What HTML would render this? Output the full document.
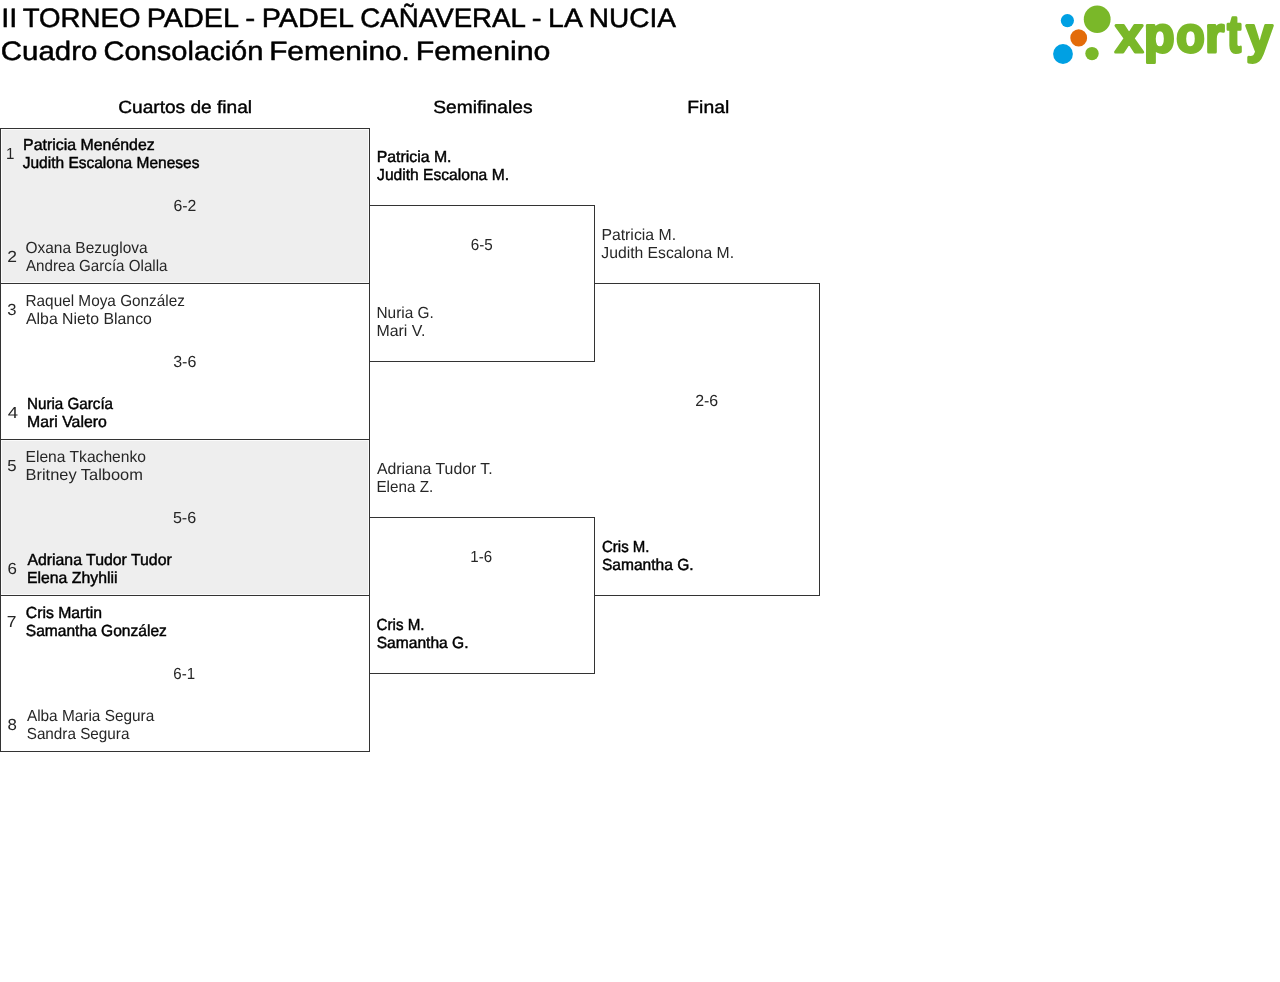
<!DOCTYPE html>
<html lang="es">
<head>
<meta charset="utf-8">
<meta name="viewport" content="width=1280">
<title>II TORNEO PADEL - PADEL CAÑAVERAL - LA NUCIA · Cuadro Consolación Femenino</title>
<style>
html,body{margin:0;padding:0;background:#fff}
body{position:relative;width:1280px;height:982px;overflow:hidden;
  font-family:"Liberation Sans",sans-serif;color:#000;font-size:16px;line-height:18px;
  text-rendering:geometricPrecision}
h1,h2,p{margin:0;padding:0;font-weight:normal;font-size:inherit}
.head,.bracket{position:absolute;left:0;top:0;width:1280px;height:982px;will-change:transform}
span.ttl,span.rh,span.sd,span.nm,span.sc{position:absolute;white-space:nowrap;display:block;transform-origin:0 0}
.ttl{font-size:26.7px;line-height:33px;-webkit-text-stroke:.5px #000}
.rh{font-size:17.7px;line-height:22px;-webkit-text-stroke:.4px #000}
.sd,.nm,.sc{font-size:16px;line-height:18px}
.sd,.sc,.nm{color:#262626}
.nm.w{color:#000;-webkit-text-stroke:.45px #000}
.box{position:absolute;box-sizing:border-box;border:1px solid #333}
.q{left:0;width:370px;height:157px}
.q1{top:128px;height:156px}.q2{top:283px}.q3{top:439px}.q4{top:595px}
.q.alt{background:#eee;box-shadow:inset 0 0 0 1px #fbfbfb}
.s{left:369px;width:226px;height:157px;border-left:0}
.s1{top:205px}.s2{top:517px}
.f{left:594px;width:226px;height:313px;top:283px;border-left:0}
.logo{position:absolute;left:1040px;top:0;width:240px;height:70px}
.logo svg{display:block}
</style>
</head>
<body>
<header class="head">
 <h1><span id="t1a" class="ttl" style="left:1px;top:2px;transform:translateX(0.35px) scaleX(1.0794)">II</span> <span id="t1b" class="ttl" style="left:22px;top:2px;transform:translateX(0.74px) scaleX(1.0352)">TORNEO</span> <span id="t1c" class="ttl" style="left:146px;top:2px;transform:translateX(0.69px) scaleX(1.0799)">PADEL</span> <span id="t1d" class="ttl" style="left:245px;top:2px;transform:translateX(0.24px) scaleX(1.1192)">-</span> <span id="t1e" class="ttl" style="left:261px;top:2px;transform:translateX(0.70px) scaleX(1.0776)">PADEL</span> <span id="t1f" class="ttl" style="left:360px;top:2px;transform:translateX(0.34px) scaleX(1.0370)">CAÑAVERAL</span> <span id="t1g" class="ttl" style="left:531px;top:2px;transform:translateX(0.69px) scaleX(1.1017)">-</span> <span id="t1h" class="ttl" style="left:548px;top:2px;transform:translateX(0.11px) scaleX(1.0659)">LA</span> <span id="t1i" class="ttl" style="left:588px;top:2px;transform:translateX(0.70px) scaleX(1.0495)">NUCIA</span></h1>
 <p class="sub"><span id="t2a" class="ttl" style="left:0px;top:35px;transform:translateX(0.85px) scaleX(1.1020)">Cuadro</span> <span id="t2b" class="ttl" style="left:103px;top:35px;transform:translateX(0.57px) scaleX(1.0881)">Consolación</span> <span id="t2c" class="ttl" style="left:269px;top:35px;transform:translateX(0.16px) scaleX(1.1161)">Femenino.</span> <span id="t2d" class="ttl" style="left:415px;top:35px;transform:translateX(0.66px) scaleX(1.1356)">Femenino</span></p>
 <div class="logo" role="img" aria-label="xporty">
  <svg width="240" height="70" viewBox="1040 0 240 70">
   <title>xporty</title>
   <ellipse cx="1097.2" cy="19.2" rx="13.4" ry="13.8" fill="#7ab829"/>
   <circle cx="1067.4" cy="20.6" r="6.6" fill="#00a0e3"/>
   <ellipse cx="1078.7" cy="37.9" rx="8.4" ry="8.7" fill="#e36c0a"/>
   <circle cx="1063" cy="54" r="9.9" fill="#00a0e3"/>
   <circle cx="1092" cy="53.6" r="6.7" fill="#7ab829"/>
   <text y="52.3" font-family="'Liberation Sans',sans-serif" font-weight="bold" font-size="50" fill="#7ab829" stroke="#7ab829" stroke-width="3" stroke-linejoin="round"><tspan x="1115.25" textLength="27.80" lengthAdjust="spacingAndGlyphs">x</tspan><tspan x="1144.05" textLength="30.55" lengthAdjust="spacingAndGlyphs">p</tspan><tspan x="1176.20" textLength="28.45" lengthAdjust="spacingAndGlyphs">o</tspan><tspan x="1205.20" textLength="18.98" lengthAdjust="spacingAndGlyphs">r</tspan><tspan x="1227.35" font-size="52.5" textLength="13.87" lengthAdjust="spacingAndGlyphs">t</tspan><tspan x="1246.15" textLength="26.41" lengthAdjust="spacingAndGlyphs">y</tspan></text>
  </svg>

 </div>
</header>
<main class="bracket">
 <div class="box q q1 alt"></div><div class="box q q2"></div><div class="box q q3 alt"></div><div class="box q q4"></div>
 <div class="box s s1"></div><div class="box s s2"></div>
 <div class="box f f1"></div>
 <section class="round">
  <h2><span id="h1" class="rh" style="left:118px;top:96px;transform:translateX(0.29px) scaleX(1.0797)">Cuartos de final</span></h2>
  <div class="match alt">
   <div class="team win"><span id="q1s" class="sd" style="left:6px;top:146px;transform:translateX(0.07px) scaleX(0.9400)">1</span> <span id="q1a" class="nm w" style="left:23px;top:137px;transform:translateX(0.03px) scaleX(0.9936)">Patricia Menéndez</span> <span id="q1b" class="nm w" style="left:22px;top:155px;transform:translateX(0.74px) scaleX(0.9688)">Judith Escalona Meneses</span></div>
   <div class="score"><span id="q12" class="sc" style="left:173px;top:198px;transform:translateX(0.44px) scaleX(0.9878)">6-2</span></div>
   <div class="team"><span id="q2s" class="sd" style="left:7px;top:249px;transform:translateX(0.31px) scaleX(1.0907)">2</span> <span id="q2a" class="nm" style="left:25px;top:240px;transform:translateX(0.44px) scaleX(0.9670)">Oxana Bezuglova</span> <span id="q2b" class="nm" style="left:26px;top:258px;transform:scaleX(0.9470)">Andrea García Olalla</span></div>
  </div>
  <div class="match ">
   <div class="team"><span id="q3s" class="sd" style="left:7px;top:302px;transform:translateX(0.13px) scaleX(1.0383)">3</span> <span id="q3a" class="nm" style="left:25px;top:293px;transform:translateX(0.52px) scaleX(0.9584)">Raquel Moya González</span> <span id="q3b" class="nm" style="left:26px;top:311px;transform:scaleX(0.9895)">Alba Nieto Blanco</span></div>
   <div class="score"><span id="q34" class="sc" style="left:173px;top:354px;transform:translateX(0.21px)">3-6</span></div>
   <div class="team win"><span id="q4s" class="sd" style="left:7px;top:405px;transform:translateX(0.75px) scaleX(1.1591)">4</span> <span id="q4a" class="nm w" style="left:27px;top:396px;transform:translateX(0.01px) scaleX(0.9486)">Nuria García</span> <span id="q4b" class="nm w" style="left:27px;top:414px;transform:translateX(0.01px) scaleX(0.9897)">Mari Valero</span></div>
  </div>
  <div class="match alt">
   <div class="team"><span id="q5s" class="sd" style="left:7px;top:458px;transform:translateX(0.22px) scaleX(1.0479)">5</span> <span id="q5a" class="nm" style="left:25px;top:449px;transform:translateX(0.52px) scaleX(0.9764)">Elena Tkachenko</span> <span id="q5b" class="nm" style="left:25px;top:467px;transform:translateX(0.52px) scaleX(1.0258)">Britney Talboom</span></div>
   <div class="score"><span id="q56" class="sc" style="left:172px;top:510px;transform:translateX(0.88px) scaleX(1.0081)">5-6</span></div>
   <div class="team win"><span id="q6s" class="sd" style="left:7px;top:561px;transform:translateX(0.44px) scaleX(1.0579)">6</span> <span id="q6a" class="nm w" style="left:27px;top:552px;transform:translateX(0.40px) scaleX(0.9894)">Adriana Tudor Tudor</span> <span id="q6b" class="nm w" style="left:27px;top:570px;transform:translateX(0.01px) scaleX(0.9872)">Elena Zhyhlii</span></div>
  </div>
  <div class="match ">
   <div class="team win"><span id="q7s" class="sd" style="left:6px;top:614px;transform:translateX(0.82px) scaleX(1.0913)">7</span> <span id="q7a" class="nm w" style="left:25px;top:605px;transform:translateX(0.78px) scaleX(0.9859)">Cris Martin</span> <span id="q7b" class="nm w" style="left:25px;top:623px;transform:translateX(0.78px) scaleX(0.9732)">Samantha González</span></div>
   <div class="score"><span id="q78" class="sc" style="left:173px;top:666px;transform:translateX(0.35px) scaleX(0.9400)">6-1</span></div>
   <div class="team"><span id="q8s" class="sd" style="left:7px;top:717px;transform:translateX(0.51px) scaleX(1.0534)">8</span> <span id="q8a" class="nm" style="left:26px;top:708px;transform:translateX(0.90px) scaleX(0.9610)">Alba Maria Segura</span> <span id="q8b" class="nm" style="left:26px;top:726px;transform:translateX(0.69px) scaleX(0.9546)">Sandra Segura</span></div>
  </div>
 </section>
 <section class="round">
  <h2><span id="h2" class="rh" style="left:433px;top:96px;transform:translateX(0.22px) scaleX(1.0861)">Semifinales</span></h2>
  <div class="match ">
   <div class="team win"><span id="s1a" class="nm w" style="left:376px;top:149px;transform:translateX(0.68px) scaleX(0.9902)">Patricia M.</span> <span id="s1b" class="nm w" style="left:377px;top:167px;transform:translateX(0.10px) scaleX(0.9756)">Judith Escalona M.</span></div>
   <div class="score"><span id="s12" class="sc" style="left:470px;top:237px;transform:translateX(0.80px) scaleX(0.9498)">6-5</span></div>
   <div class="team"><span id="s2a" class="nm" style="left:376px;top:305px;transform:translateX(0.47px) scaleX(0.9621)">Nuria G.</span> <span id="s2b" class="nm" style="left:376px;top:323px;transform:translateX(0.47px) scaleX(0.9939)">Mari V.</span></div>
  </div>
  <div class="match ">
   <div class="team"><span id="s3a" class="nm" style="left:376px;top:461px;transform:translateX(0.90px) scaleX(0.9886)">Adriana Tudor T.</span> <span id="s3b" class="nm" style="left:376px;top:479px;transform:translateX(0.47px) scaleX(0.9515)">Elena Z.</span></div>
   <div class="score"><span id="s34" class="sc" style="left:470px;top:549px;transform:translateX(0.29px) scaleX(0.9400)">1-6</span></div>
   <div class="team win"><span id="s4a" class="nm w" style="left:376px;top:617px;transform:translateX(0.61px) scaleX(0.9468)">Cris M.</span> <span id="s4b" class="nm w" style="left:376px;top:635px;transform:translateX(0.64px) scaleX(0.9750)">Samantha G.</span></div>
  </div>
 </section>
 <section class="round">
  <h2><span id="h3" class="rh" style="left:687px;top:96px;transform:translateX(0.29px) scaleX(1.0925)">Final</span></h2>
  <div class="match ">
   <div class="team"><span id="f1a" class="nm" style="left:601px;top:227px;transform:translateX(0.39px) scaleX(0.9876)">Patricia M.</span> <span id="f1b" class="nm" style="left:601px;top:245px;transform:translateX(0.32px) scaleX(0.9820)">Judith Escalona M.</span></div>
   <div class="score"><span id="f12" class="sc" style="left:695px;top:393px;transform:translateX(0.18px) scaleX(0.9938)">2-6</span></div>
   <div class="team win"><span id="f2a" class="nm w" style="left:601px;top:539px;transform:translateX(0.97px) scaleX(0.9387)">Cris M.</span> <span id="f2b" class="nm w" style="left:601px;top:557px;transform:translateX(0.94px) scaleX(0.9716)">Samantha G.</span></div>
  </div>
 </section>
</main>
</body>
</html>
